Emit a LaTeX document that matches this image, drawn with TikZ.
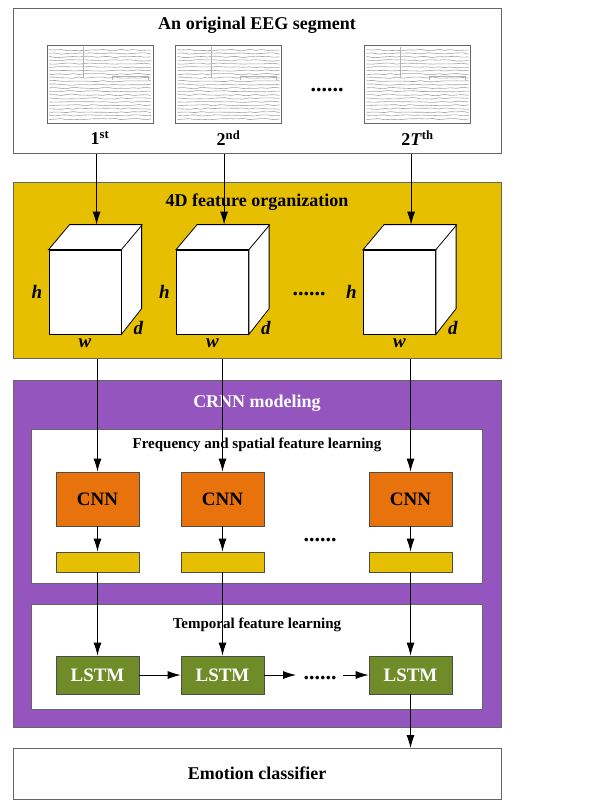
\documentclass[tikz,border=0pt]{standalone}
\usepackage{fontspec}
\setmainfont{Liberation Serif}
\usetikzlibrary{arrows.meta,positioning}
\definecolor{featyellow}{RGB}{230,192,0}
\definecolor{crnnpurple}{RGB}{148,86,190}
\definecolor{cnnorange}{RGB}{232,114,12}
\definecolor{lstmgreen}{RGB}{112,140,40}
\begin{document}
\begin{tikzpicture}[x=1pt,y=-1pt]
\tikzstyle{panel}=[draw=gray!80!black,line width=0.8pt,anchor=north west,minimum width=488pt]
\tikzstyle{inner panel}=[panel,fill=white,minimum width=451pt]
\tikzstyle{heading}=[font=\bfseries\fontsize{18}{21}\selectfont]
\tikzstyle{subheading}=[font=\bfseries\fontsize{15}{18}\selectfont]
\tikzstyle{ellipsis}=[font=\bfseries\fontsize{22}{24}\selectfont,anchor=base]
\tikzstyle{thumb}=[draw=black!60,line width=1pt,fill=white,minimum width=106pt,minimum height=78pt]
\tikzstyle{face}=[draw=black,fill=white,line width=0.8pt]
\tikzstyle{block}=[draw=black!70,line width=0.8pt,minimum width=83pt,font=\bfseries\fontsize{19}{22}\selectfont]
\tikzstyle{cnn}=[block,fill=cnnorange,minimum height=54pt]
\tikzstyle{bar}=[block,fill=featyellow,minimum height=20pt]
\tikzstyle{lstm}=[block,fill=lstmgreen,text=white,minimum height=38pt]
\tikzstyle{dim}=[font=\bfseries\itshape\fontsize{19}{22}\selectfont]
\tikzstyle{arr}=[-{Latex[length=13pt,width=8pt]},line width=0.8pt]

\useasboundingbox (0,0) rectangle (606,811);

% panels
\node[panel,minimum height=145pt] (eeg) at (13,8) {};
\node[panel,fill=featyellow,minimum height=176pt] (feat) at (13,182) {};
\node[panel,fill=crnnpurple,minimum height=347pt] (crnn) at (13,380) {};
\node[inner panel,minimum height=154pt] (spat) at (31,429) {};
\node[inner panel,minimum height=105pt] (temp) at (31,604) {};
\node[panel,minimum height=51pt] (clf) at (13,748) {};

% headings
\node[heading] (eegtitle) at (257,25) {An original EEG segment};
\node[heading] (feattitle) at (257,202) {4D feature organization};
\node[heading,text=white] (crnntitle) at (257,403) {CRNN modeling};
\node[subheading] (spattitle) at (257,445) {Frequency and spatial feature learning};
\node[subheading] (temptitle) at (257,625) {Temporal feature learning};
\node[heading] (clftitle) at (257,773) {Emotion classifier};

% EEG segments
\node[thumb] (thumbA) at (100,84) {};
\node[thumb] (thumbB) at (228.5,84) {};
\node[thumb] (thumbC) at (417.5,84) {};
\foreach \t in {thumbA,thumbB,thumbC}{
  \pgfmathsetseed{42}
  \begin{scope}[shift={(\t.center)}]
    \foreach \k in {0,...,20}
      \draw[black!35,line width=0.6pt] plot[smooth,domain=-51:51,samples=18] (\x,{-34+3.45*\k+0.7*rand});
    \draw[black!30,line width=0.6pt] (-17,-37) -- (-17,-6);
    \draw[black!30,line width=0.6pt] (12,-4) -- (12,-8) -- (48,-8) -- (48,-4);
  \end{scope}
}
\node[heading] (labA) at (100,138) {1\textsuperscript{st}};
\node[heading] (labB) at (228.5,138) {2\textsuperscript{nd}};
\node[heading] (labC) at (417.5,138) {2\textit{T}\textsuperscript{th}};
\node[ellipsis] (eegdots) at (327,91) {......};

% cubes
\foreach \c/\cx in {cubeA/85,cubeB/212.5,cubeC/399.5}{
  \node[face,minimum width=72pt,minimum height=84pt] (\c) at (\cx,292) {};
  \filldraw[face] (\c.north west) -- ++(21,-25) -- ++(72,0) -- ++(0,84) -- (\c.south east) -- (\c.north east) -- cycle;
  \draw[face] (\c.north east) -- ++(21,-25);
  \coordinate (\c top) at ([shift={(48,-25)}]\c.north west);
  \node[dim,left=3pt of \c] (\c h) {h};
  \node[dim] (\c d) at ([shift={(17,-6)}]\c.south east) {d};
  \node[dim,below=1pt of \c] (\c w) {w};
}
\node[ellipsis] (cubedots) at (309,295) {......};
\foreach \c in {cubeA,cubeB,cubeC}
  \draw[arr] (eeg.south -| \c top) -- (\c top);

% CRNN
\node[cnn] (cnnA) at (97.5,499) {CNN};
\node[cnn] (cnnB) at (222.5,499) {CNN};
\node[cnn] (cnnC) at (410.5,499) {CNN};
\node[bar] (barA) at (97.5,562) {};
\node[bar] (barB) at (222.5,562) {};
\node[bar] (barC) at (410.5,562) {};
\node[ellipsis] (cnndots) at (320,541) {......};
\node[lstm] (lstmA) at (97.5,675) {LSTM};
\node[lstm] (lstmB) at (222.5,675) {LSTM};
\node[lstm] (lstmC) at (410.5,675) {LSTM};

\foreach \s in {A,B,C}{
  \draw[arr] (feat.south -| cnn\s) -- (cnn\s);
  \draw[arr] (cnn\s) -- (bar\s);
  \draw[arr] (bar\s) -- (lstm\s);
}
\coordinate (gapL) at (296,675);
\coordinate (gapR) at (343,675);
\node[ellipsis] (lstmdots) at (320,679) {......};
\draw[arr] (lstmA) -- (lstmB);
\draw[arr] (lstmB) -- (gapL);
\draw[arr] (gapR) -- (lstmC);
\draw[arr] (lstmC) -- (clf.north -| lstmC);
\end{tikzpicture}
\end{document}
